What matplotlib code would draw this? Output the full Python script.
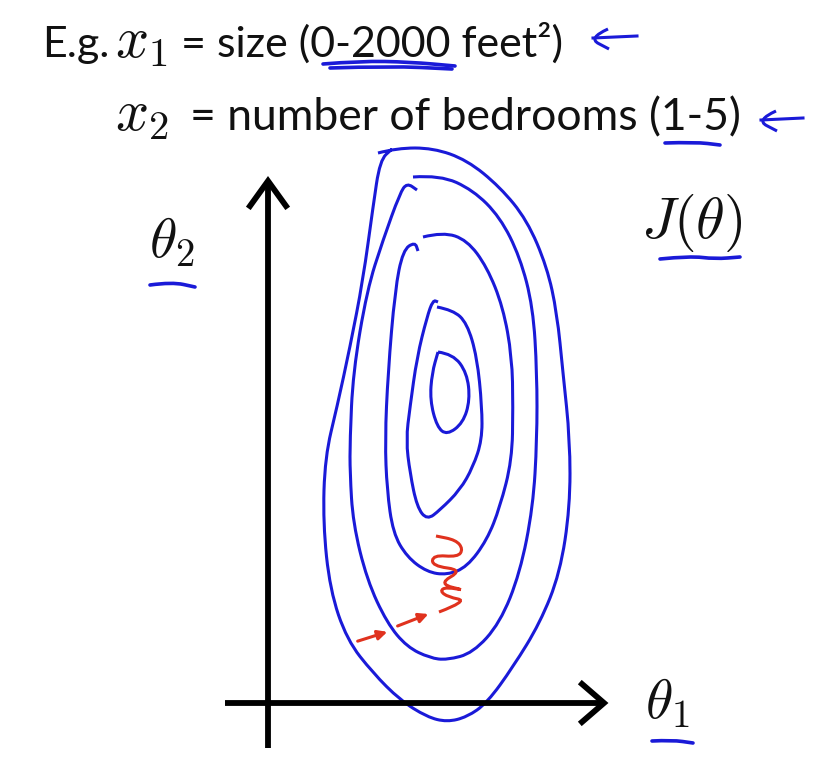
import matplotlib.pyplot as plt
from matplotlib.path import Path
from matplotlib.patches import PathPatch

plt.rcParams['mathtext.fontset'] = 'cm'

# hand-drawn contour rings of J(theta), in picture pixels (x right, y down)
ring1 = [(378, 153), (397, 148), (433, 148), (467, 160), (500, 187), (527, 220), (547, 267),
         (557, 313), (563, 373), (570, 440), (570, 507), (560, 573), (540, 623), (513, 667),
         (487, 703), (467, 717), (447, 722), (427, 717), (400, 700), (373, 673), (347, 640),
         (330, 590), (323, 523), (325, 457), (337, 407), (350, 347), (363, 280), (373, 207),
         (380, 160), (392, 149)]
ring2 = [(413, 177), (440, 175), (473, 190), (500, 217), (520, 257), (533, 307), (537, 373),
         (537, 440), (533, 507), (520, 573), (500, 623), (473, 653), (447, 660), (430, 658),
         (407, 647), (387, 623), (367, 580), (353, 523), (350, 473), (350, 440), (353, 373),
         (367, 290), (383, 240), (400, 193), (407, 183), (417, 190)]
ring3 = [(423, 237), (443, 232), (467, 240), (487, 267), (503, 307), (512, 357), (513, 407),
         (512, 460), (500, 507), (487, 540), (467, 567), (447, 575), (427, 572), (407, 557),
         (393, 533), (387, 490), (385, 440), (388, 373), (395, 290), (403, 250), (415, 242),
         (418, 251)]
ring4 = [(437, 307), (453, 310), (467, 323), (477, 357), (482, 407), (482, 440), (473, 467),
         (460, 490), (440, 510), (427, 520), (417, 507), (410, 473), (406, 440), (410, 407),
         (417, 357), (427, 317), (433, 300), (438, 302)]
ring5 = [(438, 352), (453, 354), (467, 373), (470, 400), (463, 423), (447, 435), (437, 427),
         (430, 400), (432, 373), (438, 352)]
rings = [ring1, ring2, ring3, ring4, ring5]

# red gradient-descent steps
steps = [((355, 642), (390, 631)), ((395, 627), (431, 613))]
zigzag = [(439, 612), (468, 601), (448, 597), (440, 591), (446, 587), (468, 591),
          (438, 584), (463, 570), (432, 566), (433, 555), (458, 557), (463, 549),
          (456, 540), (436, 536)]

# blue underlines / marks
underlines = [
    [(323, 64), (360, 61), (410, 62), (455, 66)],
    [(330, 68), (390, 66), (452, 69)],
    [(665, 143), (695, 142), (720, 145)],
    [(660, 259), (690, 256), (715, 259), (740, 257)],
    [(150, 285), (172, 282), (195, 287)],
    [(652, 741), (672, 740), (693, 743)],
]
left_arrows = [(590, 38, 637), (758, 120, 803)]

BLUE = '#1a1ad8'
RED = '#e0321e'


def smooth(pts):
    verts = [pts[0]]
    codes = [Path.MOVETO]
    for i in range(1, len(pts) - 1):
        a, b = pts[i], pts[i + 1]
        verts += [a, ((a[0] + b[0]) / 2, (a[1] + b[1]) / 2)]
        codes += [Path.CURVE3, Path.CURVE3]
    verts.append(pts[-1])
    codes.append(Path.LINETO)
    return Path(verts, codes)


fig = plt.figure(figsize=(8.3, 7.68), dpi=100)
ax = fig.add_axes([0, 0, 1, 1])
ax.set_xlim(0, 830)
ax.set_ylim(768, 0)
ax.axis('off')

# axes arrows
ax.plot([268, 268], [748, 182], color='black', lw=4.2, solid_capstyle='butt')
ax.plot([250, 268, 286], [206, 181, 206], color='black', lw=4.2, solid_joinstyle='miter')
ax.plot([225, 603], [703, 703], color='black', lw=4.2, solid_capstyle='butt')
ax.plot([582, 604, 582], [684, 703, 722], color='black', lw=4.2, solid_joinstyle='miter')

for r in rings:
    ax.add_patch(PathPatch(smooth(r), fill=False, edgecolor=BLUE, lw=2.2))

for u in underlines:
    ax.add_patch(PathPatch(smooth(u), fill=False, edgecolor=BLUE, lw=2.6, capstyle='round'))

for x0, y0, x1 in left_arrows:
    ax.add_patch(PathPatch(smooth([(x0 + 18, y0 - 9), (x0 - 2, y0), (x0 + 19, y0 + 11)]),
                           fill=False, edgecolor=BLUE, lw=2.2))
    ax.plot([x0 + 3, x1], [y0, y0 - 2], color=BLUE, lw=2.2)

for s, e in steps:
    ax.annotate('', xy=e, xytext=s,
                arrowprops=dict(arrowstyle='-|>', color=RED, lw=2.2, mutation_scale=14))
ax.add_patch(PathPatch(smooth(zigzag), fill=False, edgecolor=RED, lw=2.2))

# text
font = ['Lato', 'DejaVu Sans']
ink = '#111111'
ax.text(42, 57, 'E.g.', fontsize=31, family=font, va='baseline', color=ink)
ax.text(115, 57, '$x_1$', fontsize=42, va='baseline', color=ink)
ax.text(181, 57, '= size (0-2000 feet\u00b2)', fontsize=31, family=font, va='baseline',
        color=ink)
ax.text(115, 130, '$x_2$', fontsize=42, va='baseline', color=ink)
ax.text(190, 130, '= number of bedrooms (1-5)', fontsize=32, family=font, va='baseline',
        color=ink)
ax.text(641, 238, r'$J(\theta)$', fontsize=42, va='baseline', color=ink)
ax.text(149, 258, r'$\theta_2$', fontsize=40, va='baseline', color=ink)
ax.text(645, 719, r'$\theta_1$', fontsize=40, va='baseline', color=ink)

fig.savefig('out.png', dpi=100)
